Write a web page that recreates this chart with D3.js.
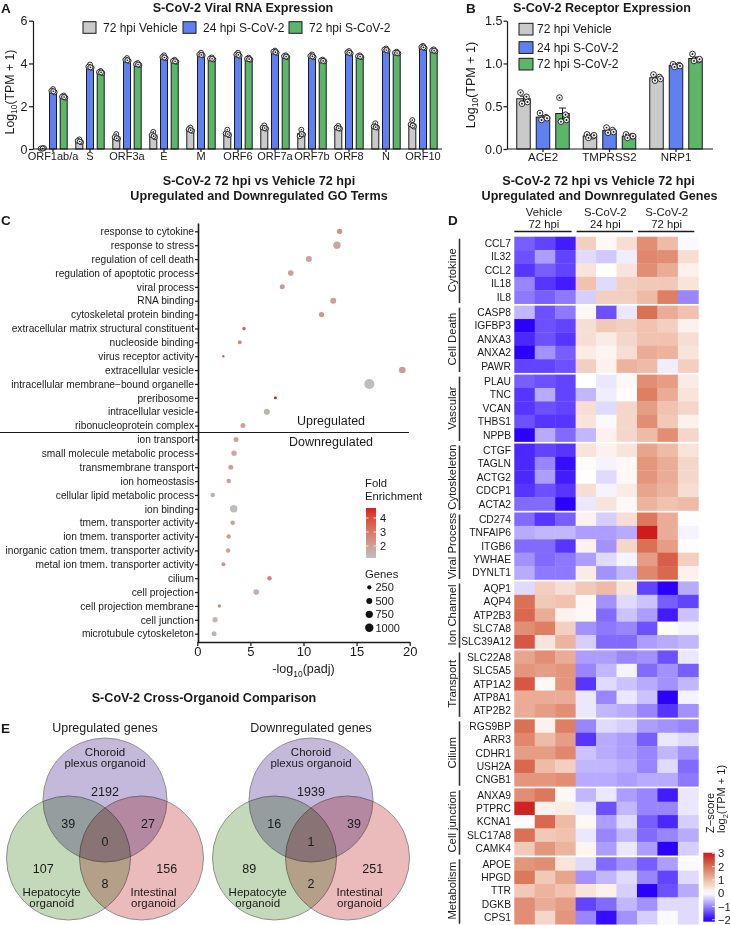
<!DOCTYPE html>
<html><head><meta charset="utf-8">
<script src="https://cdn.jsdelivr.net/npm/d3@7"></script>
<style>
body{margin:0;background:#fff}
svg{display:block}
text{font-family:"Liberation Sans",Arial,Helvetica,sans-serif;fill:#1a1a1a}
</style></head>
<body><svg id="c" width="730" height="925"></svg>
<script>
// ================= DATA =================
// Panel A
const orfs = ["ORF1ab/a","S","ORF3a","E","M","ORF6","ORF7a","ORF7b","ORF8","N","ORF10"];
const seriesNames = ["72 hpi Vehicle","24 hpi S-CoV-2","72 hpi S-CoV-2"];
const seriesColors = ["#CACACA","#6080F2","#5DB56A"];
const aVehicle72 = [[0.03,0.02,0.04,0.02],[0.45,0.38,0.32,0.35],[0.70,0.55,0.48,0.50],[0.80,0.65,0.55,0.60],[1.00,0.92,0.85,0.88],[0.90,0.72,0.65,0.70],[1.10,1.00,0.95,0.98],[0.90,0.60,0.68,0.70],[1.08,1.00,0.95,0.97],[1.20,1.05,1.00,1.02],[1.35,1.15,1.05,1.10]];
const aCov24 = [[2.80,2.72,2.65,2.70],[3.95,3.85,3.80,3.82],[4.25,4.17,4.12,4.15],[4.38,4.30,4.25,4.28],[4.50,4.42,4.38,4.40],[4.50,4.42,4.36,4.40],[4.60,4.55,4.50,4.53],[4.42,4.35,4.30,4.33],[4.58,4.52,4.47,4.50],[4.70,4.65,4.60,4.63],[4.82,4.77,4.72,4.75]];
const aCov72 = [[2.50,2.45,2.40,2.43],[3.65,3.60,3.55,3.58],[4.02,3.97,3.93,3.95],[4.17,4.12,4.08,4.10],[4.28,4.23,4.19,4.22],[4.27,4.22,4.18,4.20],[4.38,4.34,4.30,4.32],[4.18,4.14,4.10,4.12],[4.38,4.34,4.30,4.32],[4.55,4.50,4.47,4.49],[4.66,4.61,4.57,4.60]];
const aTicks = [0,2,4,6];
// Panel B
const receptors = ["ACE2","TMPRSS2","NRP1"];
const bVehicle72 = [[0.66,0.61,0.53,0.55],[0.17,0.15,0.13,0.16],[0.87,0.84,0.80,0.82]];
const bCov24 = [[0.42,0.37,0.34,0.36],[0.25,0.22,0.19,0.20],[0.99,0.98,0.96,0.97]];
const bCov72 = [[0.60,0.40,0.32,0.34],[0.17,0.15,0.13,0.15],[1.11,1.04,1.03,1.05]];
const bTicks = [0,0.5,1,1.5];
// Panel C
const goTerms = ["response to cytokine","response to stress","regulation of cell death","regulation of apoptotic process","viral process","RNA binding","cytoskeletal protein binding","extracellular matrix structural constituent","nucleoside binding","virus receptor activity","extracellular vesicle","intracellular membrane\u2212bound organelle","preribosome","intracellular vesicle","ribonucleoprotein complex","ion transport","small molecule metabolic process","transmembrane transport","ion homeostasis","cellular lipid metabolic process","ion binding","tmem. transporter activity","ion tmem. transporter activity","inorganic cation tmem. transporter activity","metal ion tmem. transporter activity","cilium","cell projection","cell projection membrane","cell junction","microtubule cytoskeleton"];
const goClass = ["BP","BP","BP","BP","BP","MF","MF","MF","MF","MF","CC","CC","CC","CC","CC","BP","BP","BP","BP","BP","MF","MF","MF","MF","MF","CC","CC","CC","CC","CC"];
const goDirection = ["Up","Up","Up","Up","Up","Up","Up","Up","Up","Up","Up","Up","Up","Up","Up","Down","Down","Down","Down","Down","Down","Down","Down","Down","Down","Down","Down","Down","Down","Down"];
const goNegLogPadj = [13.4,13.15,10.5,8.8,8.0,12.8,11.7,4.4,4.0,2.45,19.3,16.2,7.35,6.55,4.3,3.65,3.46,3.15,2.96,1.45,3.43,3.33,2.96,2.9,2.46,6.8,5.55,2.08,1.67,1.58];
const goGenes = [410,780,510,445,355,510,410,165,225,80,620,1420,130,510,355,355,410,355,300,300,780,300,275,275,225,275,445,165,410,355];
const goFold = [2.4,1.7,1.9,2.0,2.2,2.0,2.2,3.6,2.6,3.8,2.1,1.2,4.6,1.6,2.0,1.9,1.7,1.9,2.0,1.6,1.25,1.9,2.0,2.0,2.3,2.8,1.6,2.6,1.4,1.4];
const goXTicks = [0,5,10,15,20];
const foldTicks = [2,3,4];
const geneLegend = [250,500,750,1000];
// Panel D
const heatGroups = ["Cytokine","Cell Death","Vascular","Cytoskeleton","Viral Process","Ion Channel","Transport","Cilium","Cell junction","Metabolism"];
const heatGenes = ["CCL7","IL32","CCL2","IL18","IL8","CASP8","IGFBP3","ANXA3","ANXA2","PAWR","PLAU","TNC","VCAN","THBS1","NPPB","CTGF","TAGLN","ACTG2","CDCP1","ACTA2","CD274","TNFAIP6","ITGB6","YWHAE","DYNLT1","AQP1","AQP4","ATP2B3","SLC7A8","SLC39A12","SLC22A8","SLC5A5","ATP1A2","ATP8A1","ATP2B2","RGS9BP","ARR3","CDHR1","USH2A","CNGB1","ANXA9","PTPRC","KCNA1","SLC17A8","CAMK4","APOE","HPGD","TTR","DGKB","CPS1"];
const heatGeneGroup = heatGenes.map((g,i)=>heatGroups[Math.floor(i/5)]);
const heatConditions = [["Vehicle","72 hpi"],["S-CoV-2","24 hpi"],["S-CoV-2","72 hpi"]];
const heatSamples = ["veh1","veh2","veh3","c24a","c24b","c24c","c72a","c72b","c72c"];
const heatZ = [
[-1.3,-1.5,-1.8, 0.7,0.1,0.5, 1.6,1.0,-0.05],
[-1.4,-0.8,-1.5, -0.3,-0.45,-0.15, 1.7,1.6,0.5],
[-1.6,-1.3,-1.5, 0.4,0.0,0.4, 1.6,1.2,0.2],
[-1.0,-1.6,-1.8, 0.9,-0.3,0.7, 0.8,0.8,0.4],
[-1.1,-1.3,-1.1, -0.4,0.7,0.7, 1.0,1.8,-1.0],
[-0.6,-1.4,-1.1, 0.1,-1.4,-0.2, 2.0,1.2,0.9],
[-2.0,-1.4,-1.5, 0.5,0.8,0.7, 0.9,0.7,0.2],
[-1.7,-1.4,-1.6, 0.5,0.3,0.6, 0.9,0.9,0.5],
[-2.0,-0.9,-1.3, 0.3,0.15,0.5, 1.2,1.1,0.4],
[-1.5,-1.5,-1.4, 0.7,0.2,1.1, 1.0,-0.15,0.7],
[-1.3,-1.4,-1.5, 0.0,-0.2,0.1, 1.6,1.4,0.3],
[-1.6,-0.7,-1.5, -0.6,-0.15,0.05, 1.8,1.2,0.4],
[-1.6,-1.4,-1.5, 0.5,-0.3,0.6, 1.4,0.9,0.6],
[-1.4,-1.6,-1.6, 0.4,-0.05,0.6, 1.6,0.8,0.2],
[-2.0,-0.7,-1.2, -0.6,0.2,0.6, 1.0,1.6,0.6],
[-1.7,-1.5,-1.6, 0.4,0.2,0.4, 1.3,1.0,0.4],
[-1.7,-1.0,-1.9, 0.05,-0.1,0.1, 1.5,1.2,0.6],
[-1.7,-0.8,-1.8, 0.0,-0.3,0.1, 1.5,1.2,0.6],
[-1.6,-1.4,-1.6, 0.5,-0.1,0.3, 1.3,1.1,0.5],
[-1.2,-1.2,-2.0, -0.2,0.4,0.1, 1.1,0.9,1.0],
[-1.2,-1.6,-1.3, 0.2,-0.4,0.5, 1.9,1.2,-0.02],
[-0.7,-0.6,-0.6, -0.8,-0.8,-0.7, 3.0,1.2,-0.1],
[-1.2,-1.2,-1.6, 0.2,-0.9,0.6, 2.0,1.4,-0.02],
[-0.9,-1.2,-1.1, -0.8,-0.3,-0.1, 1.4,2.2,0.7],
[-0.7,-1.1,-1.1, 0.3,-0.9,-0.6, 1.7,2.1,0.2],
[-0.3,0.7,0.5, 0.8,1.0,0.4, -1.5,-2.0,-0.7],
[2.0,0.8,0.9, 0.1,-0.9,-0.3, -0.5,-1.3,-1.5],
[2.1,1.2,0.2, 0.1,-1.2,-0.5, -0.8,-1.8,-0.5],
[1.6,1.8,0.7, -0.9,-1.1,-1.0, -1.4,0.05,-0.1],
[2.3,0.4,1.1, -0.4,-1.2,-1.2, -0.8,-0.7,-0.6],
[1.3,1.6,1.2, -0.8,-0.8,-1.0, -0.9,-1.4,-0.2],
[1.5,1.4,1.5, -1.0,-0.6,-0.1, -1.2,-0.9,-1.3],
[2.3,0.1,1.5, -1.6,-0.3,-0.5, -0.7,-0.9,-0.6],
[1.2,1.2,1.2, -0.2,-1.0,-0.2, -0.5,-2.1,-0.1],
[1.2,1.4,1.6, -0.2,-0.6,-0.7, -1.0,-1.6,-0.9],
[2.0,0.2,1.8, -1.0,-0.3,-0.4, -0.8,-0.9,-1.0],
[1.7,1.0,1.4, -1.6,-0.7,-0.8, -1.3,-0.2,-0.3],
[1.4,1.4,1.7, -0.5,-0.7,-0.8, -1.0,-0.6,-0.9],
[2.1,1.0,0.7, -0.6,-0.6,-0.7, -1.0,-0.3,-1.2],
[1.5,1.5,1.6, -0.7,-0.7,-0.8, -0.7,-0.7,-1.1],
[1.6,1.9,0.1, -0.6,-0.2,-0.8, -1.0,-1.8,-0.2],
[2.9,0.2,0.3, -0.2,-1.4,-0.6, -1.0,-1.0,-0.2],
[0.05,2.1,1.0, 0.1,-0.8,-0.3, -1.3,-1.7,-0.4],
[2.0,0.8,0.9, -0.2,-1.0,-0.6, -1.2,-1.0,-0.7],
[0.8,1.5,1.1, 0.15,-0.8,-0.2, -0.8,-2.1,-0.4],
[1.5,1.6,0.4, -0.3,-1.2,-0.9, -1.3,-0.8,-0.05],
[1.9,0.8,1.3, -0.9,-0.6,-0.3, -1.0,-1.5,-0.3],
[0.8,1.1,0.9, 0.4,0.2,-0.4, -2.1,-1.4,-0.7],
[1.6,1.2,1.4, -1.5,-1.2,-0.6, -0.9,-0.3,-0.3],
[1.6,0.6,1.5, -1.0,-1.9,-0.9, -0.4,-0.05,-0.3]
];
const zTicks = [3,2,1,0,-1,-2];
// Panel E
const vennTitles = ["Upregulated genes","Downregulated genes"];
const vennOrganoids = [["Choroid","plexus organoid"],["Hepatocyte","organoid"],["Intestinal","organoid"]];
// regions: C only, H only, I only, C&H, C&I, H&I, all three
const vennUp = [2192,107,156,39,27,8,0];
const vennDown = [1939,89,251,16,39,2,1];

// ================= DRAW =================
const svg = d3.select("#c");
const FONT = '"Liberation Sans", Arial, Helvetica, sans-serif';
function styleAxis(g, fs){
  g.selectAll("path,line").attr("stroke","#1a1a1a").attr("stroke-width",1.2);
  g.selectAll("text").attr("fill","#1a1a1a").style("font-size",fs+"px").style("font-family",FONT);
}
function txt(g,x,y,s,fs,opts={}){
  const t=g.append("text").attr("x",x).attr("y",y).style("font-size",fs+"px").text(s);
  if(opts.anchor) t.attr("text-anchor",opts.anchor);
  if(opts.bold) t.style("font-weight","bold");
  if(opts.fill) t.attr("fill",opts.fill);
  return t;
}
function subLabel(g,x,y,parts,fs,rot){
  const t=g.append("text").attr("transform",`translate(${x},${y}) rotate(${rot||0})`).attr("text-anchor","middle").style("font-size",fs+"px");
  parts.forEach(p=>{
    const ts=t.append("tspan").text(p[0]);
    if(p[1]==="sub") ts.style("font-size",(fs*0.68)+"px").attr("dy",fs*0.28);
    if(p[1]==="up") ts.attr("dy",-fs*0.28);
  });
  return t;
}

// Panel letters
txt(svg,1,12.5,"A",13.5,{bold:true});
txt(svg,466,12.5,"B",13.5,{bold:true});
txt(svg,1,225,"C",13.5,{bold:true});
txt(svg,448,225,"D",13.5,{bold:true});
txt(svg,1,733,"E",13.5,{bold:true});

function drawGrouped(g, cats, data, x, xin, y, dotR, capW, jit){
  cats.forEach((c,i)=>{
    seriesNames.forEach((s,k)=>{
      const vals=data[k][i];
      const m=d3.mean(vals), se=d3.deviation(vals)/Math.sqrt(vals.length);
      const left=x(c)+x.bandwidth()/2+xin(s), cx=left+xin.bandwidth()/2;
      g.append("rect").attr("x",left).attr("y",y(m)).attr("width",xin.bandwidth()).attr("height",y(0)-y(m))
        .attr("fill",seriesColors[k]).attr("stroke","#1a1a1a").attr("stroke-width",1);
      g.append("line").attr("x1",cx).attr("x2",cx).attr("y1",y(Math.max(0,m-se))).attr("y2",y(m+se)).attr("stroke","#1a1a1a").attr("stroke-width",1);
      [m-se,m+se].forEach(v=>g.append("line").attr("x1",cx-capW/2).attr("x2",cx+capW/2).attr("y1",y(Math.max(0,v))).attr("y2",y(Math.max(0,v))).attr("stroke","#1a1a1a").attr("stroke-width",1));
      vals.forEach((v,j)=>{
        g.append("circle").attr("cx",cx+jit[j]).attr("cy",y(v)).attr("r",dotR).attr("fill","rgba(255,255,255,0.85)").attr("stroke","#1a1a1a").attr("stroke-width",0.9);
        g.append("circle").attr("cx",cx+jit[j]).attr("cy",y(v)).attr("r",dotR*0.33).attr("fill","#1a1a1a");
      });
    });
  });
}

// ---------- Panel A ----------
{
  const g=svg.append("g");
  const x=d3.scaleBand().domain(orfs).range([34.5,441.5]);
  const xin=d3.scaleBand().domain(seriesNames).range([-14.2,14.2]).paddingInner(0.346);
  const y=d3.scaleLinear().domain([0,6]).range([149,20.7]);
  drawGrouped(g,orfs,[aVehicle72,aCov24,aCov72],x,xin,y,2.5,4,[0,-1.6,1.6,0.4]);
  const ay=g.append("g").attr("transform","translate(33,0)").call(d3.axisLeft(y).tickValues(aTicks).tickSize(4).tickPadding(1.5).tickSizeOuter(0).tickFormat(d3.format("d")));
  styleAxis(ay,12.5);
  const ax=g.append("g").attr("transform","translate(0,149)").call(d3.axisBottom(x).tickSize(3).tickPadding(0).tickSizeOuter(0));
  ax.select("path.domain").attr("d","M33,0H442");
  styleAxis(ax,11);
  subLabel(g,13.5,92,[["Log"],["10","sub"],["(TPM + 1)","up"]],12.3,-90);
  txt(g,243,11.5,"S-CoV-2 Viral RNA Expression",12.6,{bold:true,anchor:"middle"});
  const lx=[83,183,289];
  seriesNames.forEach((s,k)=>{
    g.append("rect").attr("x",lx[k]).attr("y",21.7).attr("width",13).attr("height",11.6).attr("fill",seriesColors[k]).attr("stroke","#1a1a1a").attr("stroke-width",1);
    txt(g,lx[k]+20,31.7,s,12);
  });
}

// ---------- Panel B ----------
{
  const g=svg.append("g");
  const x=d3.scaleBand().domain(receptors).range([509.75,709.25]);
  const xin=d3.scaleBand().domain(seriesNames).range([-26.25,26.25]).paddingInner(0.308);
  const y=d3.scaleLinear().domain([0,1.5]).range([149,20.7]);
  drawGrouped(g,receptors,[bVehicle72,bCov24,bCov72],x,xin,y,2.9,7,[-3,3,-1.5,4]);
  const ay=g.append("g").attr("transform","translate(507,0)").call(d3.axisLeft(y).tickValues(bTicks).tickSize(3.5).tickPadding(1).tickSizeOuter(0).tickFormat(d3.format(".1f")));
  styleAxis(ay,12.5);
  const ax=g.append("g").attr("transform","translate(0,149)").call(d3.axisBottom(x).tickSize(3).tickPadding(1).tickSizeOuter(0));
  ax.select("path.domain").attr("d","M507,0H713");
  styleAxis(ax,11.5);
  subLabel(g,474.5,85,[["Log"],["10","sub"],["(TPM + 1)","up"]],12.5,-90);
  txt(g,602,11.5,"S-CoV-2 Receptor Expression",12.6,{bold:true,anchor:"middle"});
  const ly=[23.3,41.7,58.3];
  seriesNames.forEach((s,k)=>{
    g.append("rect").attr("x",519).attr("y",ly[k]).attr("width",14).attr("height",11.7).attr("fill",seriesColors[k]).attr("stroke","#1a1a1a").attr("stroke-width",1);
    txt(g,537,ly[k]+9.8,s,12);
  });
}

// ---------- Panel C ----------
{
  const g=svg.append("g");
  const classColor={BP:"#983838",MF:"#4A7C3C",CC:"#3A35AC"};
  const y=d3.scalePoint().domain(goTerms).range([223,642]).padding(0.6);
  const x=d3.scaleLinear().domain([0,20]).range([197.3,409.7]);
  const r=d3.scaleSqrt().domain([0,1000]).range([0,4.2]);
  const col=d3.scaleLinear().domain([1.14,4.71]).range(["#BEBEBE","#D61E1E"]).interpolate(d3.interpolateLab).clamp(true);
  txt(g,259,185,"S-CoV-2 72 hpi vs Vehicle 72 hpi",12.6,{bold:true,anchor:"middle"});
  txt(g,259,199.7,"Upregulated and Downregulated GO Terms",12.6,{bold:true,anchor:"middle"});
  const nUp=goDirection.filter(d=>d==="Up").length;
  const yDiv=(y(goTerms[nUp-1])+y(goTerms[nUp]))/2;
  g.append("line").attr("x1",0).attr("x2",409).attr("y1",yDiv).attr("y2",yDiv).attr("stroke","#1a1a1a").attr("stroke-width",1.2);
  txt(g,331,424.5,"Upregulated",12.5,{anchor:"middle"});
  txt(g,331,446,"Downregulated",12.5,{anchor:"middle"});
  goTerms.forEach((t,i)=>{
    g.append("circle").attr("cx",x(goNegLogPadj[i])).attr("cy",y(t)).attr("r",r(goGenes[i])).attr("fill",col(goFold[i]));
  });
  const ay=g.append("g").attr("transform","translate(198,0)").call(d3.axisLeft(y).tickSize(3).tickPadding(1).tickSizeOuter(0));
  styleAxis(ay,10.2);
  ay.select("path.domain").attr("stroke-width",1.6);
  ay.selectAll(".tick text").attr("fill",(d,i)=>classColor[goClass[i]]);
  const ax=g.append("g").attr("transform","translate(0,642)").call(d3.axisBottom(x).tickValues(goXTicks).tickSize(4).tickPadding(1).tickSizeOuter(0));
  styleAxis(ax,13);
  ax.select("path.domain").attr("stroke-width",1.6);
  subLabel(g,303.5,673,[["-log"],["10","sub"],["(padj)","up"]],12.5,0);
  // fold legend
  txt(g,365,487,"Fold",11.3);
  txt(g,365,500,"Enrichment",11.3);
  const ly=d3.scaleLinear().domain([1.14,4.71]).range([558,508]);
  const defs=svg.append("defs");
  const gr=defs.append("linearGradient").attr("id","feGrad").attr("x1",0).attr("y1",1).attr("x2",0).attr("y2",0);
  d3.range(0,1.0001,0.1).forEach(f=>gr.append("stop").attr("offset",f).attr("stop-color",col(1.14+f*(4.71-1.14))));
  g.append("rect").attr("x",366).attr("y",508).attr("width",10).attr("height",50).attr("fill","url(#feGrad)");
  foldTicks.forEach(v=>{
    g.append("line").attr("x1",366).attr("x2",368.5).attr("y1",ly(v)).attr("y2",ly(v)).attr("stroke","#fff").attr("stroke-width",0.8);
    g.append("line").attr("x1",373.5).attr("x2",376).attr("y1",ly(v)).attr("y2",ly(v)).attr("stroke","#fff").attr("stroke-width",0.8);
    txt(g,380,ly(v),v,11).attr("dy","0.35em");
  });
  txt(g,365,578,"Genes",11.3);
  const gy=[587.3,601,614.3,627.7];
  geneLegend.forEach((v,i)=>{
    g.append("circle").attr("cx",369.3).attr("cy",gy[i]).attr("r",r(v)).attr("fill","#111");
    txt(g,375.5,gy[i],v,11).attr("dy","0.35em");
  });
}

// ---------- Panel D ----------
{
  const g=svg.append("g");
  txt(g,598.5,185,"S-CoV-2 72 hpi vs Vehicle 72 hpi",12.6,{bold:true,anchor:"middle"});
  txt(g,599.5,199.7,"Upregulated and Downregulated Genes",12.6,{bold:true,anchor:"middle"});
  const x=d3.scaleBand().domain(heatSamples).range([514.3,698.3]);
  const yG=d3.scaleBand().domain(heatGroups).range([236.7,924.2]).paddingInner(0.029);
  const yR=d3.scaleBand().domain(d3.range(5)).range([0,yG.bandwidth()]);
  const color=d3.scaleLinear().domain([-2,-1,0,1,2,3]).range(["#2C00FF","#9885FF","#FFFFFF","#EEBBA6","#DA7054","#CC1C1C"]).clamp(true);
  const rowY=i=>yG(heatGeneGroup[i])+yR(i%5);
  heatGenes.forEach((gene,i)=>{
    heatSamples.forEach((s,j)=>{
      g.append("rect").attr("x",x(s)).attr("y",rowY(i)).attr("width",x.bandwidth()+0.4).attr("height",yR.bandwidth()+0.3).attr("fill",color(heatZ[i][j]));
    });
    txt(g,511,rowY(i)+yR.bandwidth()/2,gene,10.3,{anchor:"end"}).attr("dy","0.36em");
  });
  heatConditions.forEach((c,k)=>{
    const x0=x(heatSamples[k*3]), x1=x(heatSamples[k*3+2])+x.bandwidth();
    const cx=(x0+x1)/2-1;
    txt(g,cx,215.5,c[0],11.3,{anchor:"middle"});
    txt(g,cx,228,c[1],11.3,{anchor:"middle"});
    g.append("line").attr("x1",x0+(k?1:0)).attr("x2",x1-4).attr("y1",231.5).attr("y2",231.5).attr("stroke","#1a1a1a").attr("stroke-width",1.4);
  });
  heatGroups.forEach(gr=>{
    const y0=yG(gr), y1=y0+yG.bandwidth();
    g.append("line").attr("x1",459.5).attr("x2",459.5).attr("y1",y0+2).attr("y2",y1-0.5).attr("stroke","#333").attr("stroke-width",1.6);
    g.append("text").attr("transform",`translate(456,${(y0+y1)/2}) rotate(-90)`).attr("text-anchor","middle").style("font-size","11.3px").text(gr);
  });
  const cy=d3.scaleLinear().domain([-2.15,3.05]).range([921.7,852.7]);
  const gr=svg.select("defs").append("linearGradient").attr("id","zGrad").attr("x1",0).attr("y1",1).attr("x2",0).attr("y2",0);
  d3.range(0,1.0001,0.05).forEach(f=>gr.append("stop").attr("offset",f).attr("stop-color",color(-2.15+f*5.2)));
  g.append("rect").attr("x",703.3).attr("y",852.7).attr("width",11.5).attr("height",69).attr("fill","url(#zGrad)");
  zTicks.forEach(v=>{
    g.append("line").attr("x1",712).attr("x2",714.8).attr("y1",cy(v)).attr("y2",cy(v)).attr("stroke","#fff").attr("stroke-width",0.8);
    txt(g,718,cy(v),v<0?"\u2212"+Math.abs(v):String(v),11.3).attr("dy","0.36em");
  });
  g.append("text").attr("transform","translate(714,833) rotate(-90)").style("font-size","11px").text("Z\u2212score");
  const lt=g.append("text").attr("transform","translate(725.3,833) rotate(-90)").style("font-size","11px");
  lt.append("tspan").text("log");
  lt.append("tspan").text("2").style("font-size","7.5px").attr("dy",2.6);
  lt.append("tspan").text("(TPM + 1)").attr("dy",-2.6);
}

// ---------- Panel E ----------
{
  const g=svg.append("g");
  txt(g,204,702.3,"S-CoV-2 Cross-Organoid Comparison",12.6,{bold:true,anchor:"middle"});
  const centers=[[105,800],[311,800]];
  const circOff=[[0,0],[-36.5,58],[36.5,58]];
  const circFill=["#C4B9DA","#C3D9B9","#EBBBBB"];
  const numOff=[[0,-4.3],[-61.7,73.3],[61.7,73.3],[-36.7,28.3],[43,28.3],[0,88.3],[0,46]];
  const labOff=[[0,-44,-33.3],[-53.3,95.7,106.7],[48.5,95.7,106.7]];
  [vennUp,vennDown].forEach((counts,v)=>{
    const [ox,oy]=centers[v];
    const gv=g.append("g").style("isolation","isolate");
    circOff.forEach((o,k)=>{
      gv.append("circle").attr("cx",ox+o[0]).attr("cy",oy+o[1]).attr("r",62).attr("fill",circFill[k]).attr("stroke","#8f8f8f").attr("stroke-width",1).style("mix-blend-mode","multiply");
    });
    txt(g,ox,732.3,vennTitles[v],12.5,{anchor:"middle"});
    counts.forEach((c,k)=>txt(g,ox+numOff[k][0],oy+numOff[k][1],c,12.5,{anchor:"middle"}));
    vennOrganoids.forEach((nm,k)=>{
      txt(g,ox+labOff[k][0],oy+labOff[k][1],nm[0],11.5,{anchor:"middle"});
      txt(g,ox+labOff[k][0],oy+labOff[k][2],nm[1],11.5,{anchor:"middle"});
    });
  });
}
</script></body></html>
